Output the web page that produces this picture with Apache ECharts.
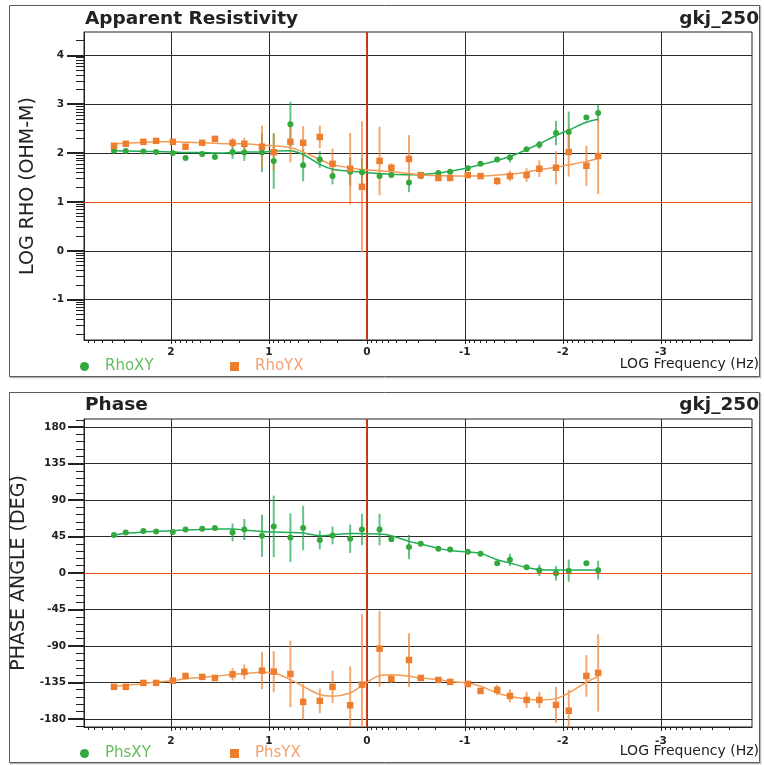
<!DOCTYPE html>
<html>
<head>
<meta charset="utf-8">
<title>Apparent Resistivity / Phase</title>
<script src="https://cdn.jsdelivr.net/npm/echarts@6/dist/echarts.min.js"></script>
<style>
  html, body { margin: 0; padding: 0; background: #fff; }
  #chart { width: 764px; height: 765px; }
</style>
</head>
<body>
<div id="chart"></div>
<script>
  // ---- data ----
  // log10 of frequency for every sounding point
  const logFreq = [2.58, 2.46, 2.28, 2.15, 1.98, 1.85, 1.68, 1.55, 1.37, 1.25, 1.07, 0.95, 0.78, 0.65, 0.48, 0.35, 0.17,
    0.05, -0.13, -0.25, -0.43, -0.55, -0.73, -0.85, -1.03, -1.16, -1.33, -1.46, -1.63, -1.76, -1.93, -2.06, -2.24, -2.36]

  // apparent resistivity, log10(ohm-m)
  const rhoXY = [2.05, 2.04, 2.03, 2.02, 2.00, 1.90, 1.98, 1.92, 2.02, 2.01, 2.01, 1.84, 2.59, 1.75, 1.87, 1.53, 1.62,
    1.61, 1.53, 1.55, 1.40, 1.53, 1.59, 1.62, 1.69, 1.78, 1.87, 1.91, 2.08, 2.17, 2.41, 2.43, 2.73, 2.82]
  const rhoXYErr = [0.03, 0.02, 0.02, 0.02, 0.03, 0.02, 0.03, 0.03, 0.14, 0.17, 0.40, 0.57, 0.46, 0.33, 0.17, 0.17, 0.29,
    0.29, 0.03, 0.05, 0.20, 0.03, 0.03, 0.03, 0.03, 0.03, 0.04, 0.10, 0.04, 0.08, 0.25, 0.42, 0.03, 0.17]
  const rhoXYFit = [2.05, 2.04, 2.035, 2.03, 2.02, 2.01, 2.01, 2.00, 2.01, 2.02, 2.02, 2.04, 2.05, 1.97, 1.77, 1.67, 1.63,
    1.61, 1.58, 1.565, 1.555, 1.56, 1.59, 1.63, 1.70, 1.76, 1.85, 1.93, 2.07, 2.19, 2.36, 2.47, 2.63, 2.69]

  const rhoYX = [2.15, 2.19, 2.23, 2.25, 2.23, 2.13, 2.21, 2.29, 2.21, 2.19, 2.13, 2.02, 2.23, 2.21, 2.33, 1.78, 1.68,
    1.31, 1.84, 1.70, 1.88, 1.55, 1.49, 1.49, 1.55, 1.53, 1.43, 1.53, 1.55, 1.68, 1.70, 2.02, 1.74, 1.94]
  const rhoYXErr = [0.05, 0.03, 0.03, 0.03, 0.04, 0.03, 0.03, 0.03, 0.10, 0.12, 0.43, 0.37, 0.42, 0.34, 0.23, 0.31, 0.73,
    1.34, 0.70, 0.09, 0.49, 0.04, 0.04, 0.04, 0.06, 0.04, 0.08, 0.11, 0.14, 0.17, 0.34, 0.50, 0.41, 0.78]
  const rhoYXFit = [2.19, 2.20, 2.22, 2.23, 2.23, 2.22, 2.21, 2.20, 2.19, 2.19, 2.16, 2.15, 2.11, 2.02, 1.87, 1.76, 1.70,
    1.66, 1.64, 1.62, 1.58, 1.55, 1.54, 1.53, 1.53, 1.53, 1.55, 1.57, 1.61, 1.66, 1.71, 1.76, 1.83, 1.89]

  // phase, degrees
  const phsXY = [46.8, 50.1, 51.8, 51.3, 50.5, 53.8, 54.6, 55.5, 50.1, 53.6, 46.0, 57.5, 43.7, 55.5, 40.7, 46.4, 42.3,
    53.8, 53.6, 41.7, 32.0, 36.1, 29.8, 29.1, 26.1, 23.8, 11.9, 16.2, 7.0, 3.3, -0.4, 2.9, 11.9, 3.5]
  const phsXYErr = [2.5, 1.5, 1.5, 1.5, 1.5, 1.5, 1.5, 1.5, 11, 13, 26, 38, 30, 27.5, 11.5, 11, 17.5,
    19.5, 19.5, 2.5, 15, 2, 2, 2, 2, 2, 2, 7.6, 2, 7, 8.8, 13.7, 2, 11.7]
  const phsXYFit = [46.8, 49, 50.5, 51.5, 52.2, 53, 53.8, 54.2, 54.2, 53, 51.3, 50.5, 50.1, 49.3, 46, 47.2, 48.8,
    48.4, 48, 46, 39, 35.7, 30.4, 27.9, 25.9, 24.2, 16.4, 12.3, 6.9, 4.4, 3.7, 3.7, 3.7, 3.7]

  const phsYX = [-140.5, -140.5, -135.6, -135.6, -132.8, -127, -128.2, -129.5, -125, -122, -120.5, -121.7, -124.6, -159,
    -157.8, -140.5, -163.2, -137.8, -93.3, -130.7, -107.3, -129.5, -132, -134.4, -136.9, -145.5, -144.3, -151.7, -156.6,
    -156.6, -162.7, -170, -127, -123.3]
  const phsYXErr = [3, 2, 2, 2, 2, 2, 2, 2, 7.6, 9.2, 22.8, 25.3, 41, 21.6, 15.2, 20, 48,
    87, 46.7, 5, 33, 2, 2, 2, 4, 3, 6.5, 8, 10, 10, 22, 26, 25.7, 47.7]
  const phsYXFit = [-139.8, -138.5, -136.5, -134.5, -132.8, -130.5, -128.8, -127.5, -125, -124, -122.5, -123.5, -131.5,
    -139.8, -150, -152, -148, -139, -126.6, -125.4, -127.5, -129.5, -131.5, -134, -135.6, -139.8, -148, -152, -155.3,
    -156.6, -155, -148, -134.9, -127.5]

  // axes
  const freqTicks = [-3, -2, -1, 0, 1, 2]
  const rhoTicks = [-1, 0, 1, 2, 3, 4]
  const phaseTicks = [-180, -135, -90, -45, 0, 45, 90, 135, 180]
  const freqRange = [-3.93, 2.886]
  const rhoRange = [-1.824, 4.477]
  const phaseRange = [-190, 190]
  // red reference lines
  const refFreq = 0
  const refRho = 1
  const refPhase = 0

  const GREEN = '#34a83c'
  const GREEN_LINE = '#1fae57'
  const GREEN_BAR = 'rgba(30, 170, 80, 0.7)'
  const ORANGE = '#ee7d2e'
  const ORANGE_LINE = '#f39b55'
  const ORANGE_BAR = 'rgba(240, 135, 55, 0.72)'
  const FONT = 'DejaVu Sans'

  // log-style minor tick positions (2..9 inside every decade)
  const logMinor = (lo, hi) => {
    const out = []
    for (let d = Math.floor(lo) - 1; d <= Math.ceil(hi); d++) {
      for (let k = 2; k <= 9; k++) {
        const v = d + Math.log10(k)
        if (v > lo && v < hi) out.push(+v.toFixed(4))
      }
    }
    return out
  }
  const phaseMinor = []
  for (let v = -189; v <= 189; v += 9) phaseMinor.push(v)

  const zip = (ys) => logFreq.map((x, i) => [x, ys[i]])
  const zipErr = (ys, es) => logFreq.map((x, i) => [x, ys[i], es[i]])

  const errorSeries = (name, ys, es, color, xi, yi) => ({
    name: name,
    type: 'custom',
    xAxisIndex: xi,
    yAxisIndex: yi,
    clip: true,
    z: 2,
    silent: true,
    data: zipErr(ys, es),
    renderItem: (params, api) => {
      const x = api.value(0)
      const y = api.value(1)
      const e = api.value(2)
      const a = api.coord([x, y - e])
      const b = api.coord([x, y + e])
      return {
        type: 'line',
        shape: { x1: a[0], y1: a[1], x2: b[0], y2: b[1] },
        style: { stroke: color, lineWidth: 2 }
      }
    }
  })

  const fitSeries = (name, ys, color, xi, yi) => ({
    name: name,
    type: 'line',
    xAxisIndex: xi,
    yAxisIndex: yi,
    smooth: 0.35,
    showSymbol: false,
    silent: true,
    z: 3,
    lineStyle: { color: color, width: 1.5 },
    data: zip(ys)
  })

  const pointSeries = (name, ys, color, symbol, size, xi, yi, extra) => Object.assign({
    name: name,
    type: 'scatter',
    xAxisIndex: xi,
    yAxisIndex: yi,
    symbol: symbol,
    symbolSize: size,
    z: 4,
    itemStyle: { color: color, opacity: 1 },
    data: zip(ys)
  }, extra || {})

  // vertical red line at log f = 0 across the whole panel
  const vLineSeries = (range, xi, yi) => ({
    name: 'ref f',
    type: 'line',
    xAxisIndex: xi,
    yAxisIndex: yi,
    showSymbol: false,
    silent: true,
    z: 1,
    lineStyle: { color: '#cc4420', width: 1.8 },
    data: [[refFreq, range[0]], [refFreq, range[1]]]
  })
  // horizontal red line at a given value
  const hLine = (value) => ({
    silent: true,
    symbol: ['none', 'none'],
    label: { show: false },
    animation: false,
    lineStyle: { color: '#e8511d', width: 1.2, type: 'solid' },
    data: [{ yAxis: value }]
  })

  const tickLabel = { fontFamily: FONT, fontWeight: 'bold', fontSize: 10.5, color: '#222' }
  const gridLine = { show: true, lineStyle: { color: '#2b2b2b', width: 1 } }

  const mainX = (gi, margin) => ({
    type: 'value',
    gridIndex: gi,
    inverse: true,
    min: freqRange[0],
    max: freqRange[1],
    position: 'bottom',
    axisLine: { show: true, onZero: false, lineStyle: { color: '#222', width: 1 } },
    axisTick: { show: true, length: 4, customValues: freqTicks, lineStyle: { color: '#222' } },
    axisLabel: Object.assign({ customValues: freqTicks, margin: margin }, tickLabel),
    splitLine: gridLine
  })
  const minorX = (gi) => ({
    type: 'value',
    gridIndex: gi,
    inverse: true,
    min: freqRange[0],
    max: freqRange[1],
    position: 'bottom',
    axisLine: { show: false, onZero: false },
    axisTick: { show: true, length: 3, customValues: logMinor(freqRange[0], freqRange[1]), lineStyle: { color: '#222' } },
    axisLabel: { show: false },
    splitLine: { show: false }
  })
  const mainY = (gi, range, ticks, len, margin, name) => ({
    type: 'value',
    gridIndex: gi,
    min: range[0],
    max: range[1],
    position: 'left',
    name: name,
    nameLocation: 'middle',
    nameGap: 46,
    nameTextStyle: { fontFamily: FONT, fontSize: 19, color: '#222' },
    axisLine: { show: true, onZero: false, lineStyle: { color: '#222', width: 1 } },
    axisTick: { show: true, length: len, customValues: ticks, lineStyle: { color: '#222', width: 2 } },
    axisLabel: Object.assign({ customValues: ticks, margin: margin }, tickLabel),
    splitLine: gridLine
  })
  const minorY = (gi, range, ticks) => ({
    type: 'value',
    gridIndex: gi,
    min: range[0],
    max: range[1],
    position: 'left',
    axisLine: { show: false, onZero: false },
    axisTick: { show: true, length: 8, customValues: ticks, lineStyle: { color: '#222', width: 1 } },
    axisLabel: { show: false },
    splitLine: { show: false }
  })

  const legendItem = (name, icon, textColor, left, top) => ({
    left: left,
    top: top,
    padding: 0,
    itemWidth: 9,
    itemHeight: 9,
    selectedMode: false,
    textStyle: { fontFamily: FONT, fontSize: 15, color: textColor, padding: [0, 0, 0, 11] },
    data: [{ name: name, icon: icon }]
  })

  const titleText = (text, pos, size, bold) => Object.assign({
    text: text,
    padding: 0,
    textStyle: { fontFamily: FONT, fontSize: size, fontWeight: bold ? 'bold' : 'normal', color: '#222' }
  }, pos)

  const frame = (y, h) => ([
    { type: 'rect', z: -10, silent: true, shape: { x: 10.5, y: y + 1, width: 750, height: h }, style: { fill: 'none', stroke: '#b8b8b8', lineWidth: 1.5 } },
    { type: 'rect', z: -9, silent: true, shape: { x: 9.5, y: y, width: 750, height: h }, style: { fill: '#fff', stroke: '#5a5a5a', lineWidth: 1 } }
  ])

  const option = {
    animation: false,
    backgroundColor: '#fff',
    graphic: [...frame(5.5, 371), ...frame(392.5, 370)],
    title: [
      titleText('Apparent Resistivity', { left: 85, top: 10 }, 18.5, true),
      titleText('gkj_250', { right: 5, top: 10 }, 18.5, true),
      titleText('LOG Frequency (Hz)', { right: 5, top: 357 }, 14, false),
      titleText('Phase', { left: 85, top: 396 }, 18.5, true),
      titleText('gkj_250', { right: 5, top: 396 }, 18.5, true),
      titleText('LOG Frequency (Hz)', { right: 5, top: 744 }, 14, false)
    ],
    legend: [
      legendItem('RhoXY', 'circle', '#62bd5e', 80, 359),
      legendItem('RhoYX', 'rect', '#f4a06c', 230, 359),
      legendItem('PhsXY', 'circle', '#62bd5e', 80, 746),
      legendItem('PhsYX', 'rect', '#f4a06c', 230, 746)
    ],
    grid: [
      { left: 84, right: 12, top: 32, height: 308, show: true, borderColor: '#222', borderWidth: 1, backgroundColor: 'transparent' },
      { left: 84, right: 12, top: 419, height: 308, show: true, borderColor: '#222', borderWidth: 1, backgroundColor: 'transparent' }
    ],
    xAxis: [mainX(0, 7), minorX(0), mainX(1, 9), minorX(1)],
    yAxis: [
      mainY(0, rhoRange, rhoTicks, 17, 20, 'LOG RHO (OHM-M)'),
      minorY(0, rhoRange, logMinor(rhoRange[0], rhoRange[1])),
      mainY(1, phaseRange, phaseTicks, 16, 18, 'PHASE ANGLE (DEG)'),
      minorY(1, phaseRange, phaseMinor)
    ],
    series: [
      // resistivity panel
      vLineSeries(rhoRange, 0, 0),
      errorSeries('RhoXY err', rhoXY, rhoXYErr, GREEN_BAR, 0, 0),
      errorSeries('RhoYX err', rhoYX, rhoYXErr, ORANGE_BAR, 0, 0),
      fitSeries('RhoXY fit', rhoXYFit, GREEN_LINE, 0, 0),
      fitSeries('RhoYX fit', rhoYXFit, ORANGE_LINE, 0, 0),
      pointSeries('RhoXY', rhoXY, GREEN, 'circle', 6, 0, 0, { markLine: hLine(refRho) }),
      pointSeries('RhoYX', rhoYX, ORANGE, 'rect', 6.5, 0, 0),
      // phase panel
      vLineSeries(phaseRange, 2, 2),
      errorSeries('PhsXY err', phsXY, phsXYErr, GREEN_BAR, 2, 2),
      errorSeries('PhsYX err', phsYX, phsYXErr, ORANGE_BAR, 2, 2),
      fitSeries('PhsXY fit', phsXYFit, GREEN_LINE, 2, 2),
      fitSeries('PhsYX fit', phsYXFit, ORANGE_LINE, 2, 2),
      pointSeries('PhsXY', phsXY, GREEN, 'circle', 6, 2, 2, { markLine: hLine(refPhase) }),
      pointSeries('PhsYX', phsYX, ORANGE, 'rect', 6.5, 2, 2)
    ]
  }

  const chart = echarts.init(document.getElementById('chart'), null, { renderer: 'canvas' })
  chart.setOption(option)
  window.addEventListener('resize', () => chart.resize())
</script>
</body>
</html>
